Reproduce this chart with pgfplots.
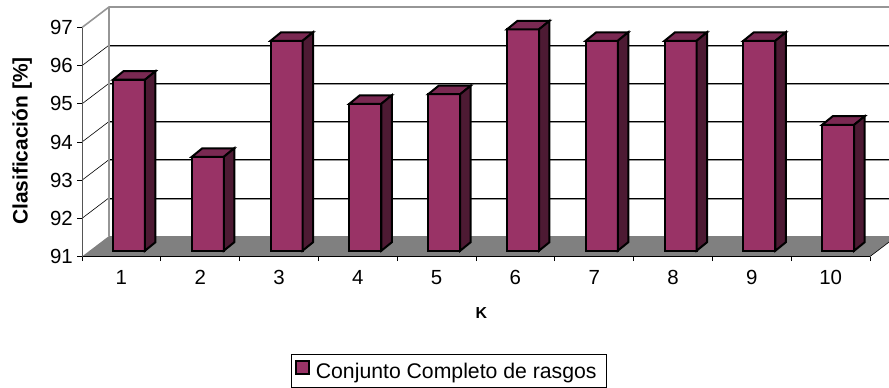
\documentclass[border=0pt]{standalone}
\usepackage{fontspec}
\setmainfont{Liberation Sans}
\usepackage{pgfplots}
\pgfplotsset{compat=1.18}
\definecolor{barfront}{HTML}{993366}
\definecolor{bartop}{HTML}{7A2952}
\definecolor{barside}{HTML}{4D1A33}
\definecolor{wallgray}{HTML}{969696}
\definecolor{floorgray}{HTML}{808080}
\definecolor{axisgray}{HTML}{555555}
% 3D look: the bars stand part of the way into the floor
\pgfplotsset{
  barplane/.style={xshift=7.6bp,yshift=5.8bp},
  backplane/.style={no marks,forget plot},
  gridback/.style={backplane,black,line width=0.5bp},
  gridshadow/.style={backplane,wallgray,line width=1.1bp,yshift=-1.2bp},
  griddiag/.style={backplane,black,line width=0.6bp},
  barface/.style={forget plot,draw=black,line width=2bp,line join=miter,no marks},
}
\begin{document}
\begin{tikzpicture}[x=1bp,y=1bp]
\clip (0,0) rectangle (889,387);
\begin{axis}[
  at={(82bp,130.5bp)},anchor=south west,
  scale only axis,width=788bp,height=229bp,
  clip=false,axis on top,
  xmin=0,xmax=10,ymin=91,ymax=97,
  axis x line*=bottom,axis y line*=left,
  axis line style={-,line width=0.8bp,color=black},
  y axis line style={color=axisgray},
  xtick={0,1,...,10},
  x tick label as interval,
  xticklabels={1,2,3,4,5,6,7,8,9,10},
  ytick={91,92,...,97},
  tick align=outside,
  major tick length=4.7bp,
  tick style={black,line width=0.7bp},
  tick label style={font=\fontsize{20.5}{22}\selectfont},
  /pgf/number format/assume math mode=true,
  xticklabel style={yshift=-6bp},
  yticklabel style={xshift=-1bp},
  xlabel={\textbf{\fontsize{16}{18}\selectfont K}},
  xlabel style={at={(axis description cs:0.5067,-0.2489)},anchor=center},
  ylabel={\textbf{\fontsize{21}{23}\selectfont Clasificación [\%]}},
  ylabel style={at={(axis description cs:-0.0760,0.504)},anchor=center},
  legend style={
    at={(axis description cs:0.2652,-0.427)},anchor=north west,
    draw=black,line width=0.8bp,
    font=\fontsize{21.3}{23}\selectfont,
    inner xsep=3.5bp,inner ysep=5bp,
  },
  legend cell align=left,
]
% floor
\addplot[backplane,fill=floorgray,draw=none] coordinates {(0,91)(0.3426,91.537)(10.3426,91.537)(10,91)} --cycle;
% back wall grid
\addplot[gridshadow] coordinates {(0.3426,92.537)(10.3426,92.537)};
\addplot[gridshadow] coordinates {(0.3426,93.537)(10.3426,93.537)};
\addplot[gridshadow] coordinates {(0.3426,94.537)(10.3426,94.537)};
\addplot[gridshadow] coordinates {(0.3426,95.537)(10.3426,95.537)};
\addplot[gridshadow] coordinates {(0.3426,96.537)(10.3426,96.537)};
\addplot[gridback] coordinates {(0.3426,92.537)(10.3426,92.537)};
\addplot[gridback] coordinates {(0.3426,93.537)(10.3426,93.537)};
\addplot[gridback] coordinates {(0.3426,94.537)(10.3426,94.537)};
\addplot[gridback] coordinates {(0.3426,95.537)(10.3426,95.537)};
\addplot[gridback] coordinates {(0.3426,96.537)(10.3426,96.537)};
% side wall lines
\addplot[griddiag] coordinates {(0,92)(0.3426,92.537)};
\addplot[griddiag] coordinates {(0,93)(0.3426,93.537)};
\addplot[griddiag] coordinates {(0,94)(0.3426,94.537)};
\addplot[griddiag] coordinates {(0,95)(0.3426,95.537)};
\addplot[griddiag] coordinates {(0,96)(0.3426,96.537)};
\addplot[backplane,wallgray,line width=1.6bp] coordinates {(0,97)(0.3426,97.537)(10.3426,97.537)};
\addplot[backplane,wallgray,line width=1.6bp] coordinates {(0.3426,91.537)(0.3426,97.537)};
\addplot[backplane,black,line width=0.6bp] coordinates {(0,91)(10,91)};
\addplot[backplane,black,line width=0.6bp] coordinates {(10,91)(10.3426,91.537)};
% front faces
\addplot[ybar,bar width=32bp,fill=barfront,draw=black,line width=2bp,barplane,
  legend image code/.code={%
    \draw[fill=barfront,draw=black,line width=2bp] (1bp,-8bp) rectangle (14bp,5bp);
    \path[draw=none,fill=none] (0bp,0bp) -- (19bp,0bp);}]
  coordinates {(0.5,95.48)(1.5,93.46)(2.5,96.5)(3.5,94.85)(4.5,95.1)(5.5,96.8)(6.5,96.5)(7.5,96.5)(8.5,96.5)(9.5,94.3)};
\addlegendentry{Conjunto Completo de rasgos\hspace{4bp}\rule[-17bp]{0pt}{1bp}}
% tops
\addplot[barface,fill=bartop,barplane] coordinates {(0.297,95.48)(0.43,95.703)(0.836,95.703)(0.703,95.48)} --cycle;
\addplot[barface,fill=bartop,barplane] coordinates {(1.297,93.46)(1.43,93.683)(1.836,93.683)(1.703,93.46)} --cycle;
\addplot[barface,fill=bartop,barplane] coordinates {(2.297,96.5)(2.43,96.723)(2.836,96.723)(2.703,96.5)} --cycle;
\addplot[barface,fill=bartop,barplane] coordinates {(3.297,94.85)(3.43,95.073)(3.836,95.073)(3.703,94.85)} --cycle;
\addplot[barface,fill=bartop,barplane] coordinates {(4.297,95.1)(4.43,95.323)(4.836,95.323)(4.703,95.1)} --cycle;
\addplot[barface,fill=bartop,barplane] coordinates {(5.297,96.8)(5.43,97.023)(5.836,97.023)(5.703,96.8)} --cycle;
\addplot[barface,fill=bartop,barplane] coordinates {(6.297,96.5)(6.43,96.723)(6.836,96.723)(6.703,96.5)} --cycle;
\addplot[barface,fill=bartop,barplane] coordinates {(7.297,96.5)(7.43,96.723)(7.836,96.723)(7.703,96.5)} --cycle;
\addplot[barface,fill=bartop,barplane] coordinates {(8.297,96.5)(8.43,96.723)(8.836,96.723)(8.703,96.5)} --cycle;
\addplot[barface,fill=bartop,barplane] coordinates {(9.297,94.3)(9.43,94.523)(9.836,94.523)(9.703,94.3)} --cycle;
% sides
\addplot[barface,fill=barside,barplane] coordinates {(0.703,91)(0.836,91.223)(0.836,95.703)(0.703,95.48)} --cycle;
\addplot[barface,fill=barside,barplane] coordinates {(1.703,91)(1.836,91.223)(1.836,93.683)(1.703,93.46)} --cycle;
\addplot[barface,fill=barside,barplane] coordinates {(2.703,91)(2.836,91.223)(2.836,96.723)(2.703,96.5)} --cycle;
\addplot[barface,fill=barside,barplane] coordinates {(3.703,91)(3.836,91.223)(3.836,95.073)(3.703,94.85)} --cycle;
\addplot[barface,fill=barside,barplane] coordinates {(4.703,91)(4.836,91.223)(4.836,95.323)(4.703,95.1)} --cycle;
\addplot[barface,fill=barside,barplane] coordinates {(5.703,91)(5.836,91.223)(5.836,97.023)(5.703,96.8)} --cycle;
\addplot[barface,fill=barside,barplane] coordinates {(6.703,91)(6.836,91.223)(6.836,96.723)(6.703,96.5)} --cycle;
\addplot[barface,fill=barside,barplane] coordinates {(7.703,91)(7.836,91.223)(7.836,96.723)(7.703,96.5)} --cycle;
\addplot[barface,fill=barside,barplane] coordinates {(8.703,91)(8.836,91.223)(8.836,96.723)(8.703,96.5)} --cycle;
\addplot[barface,fill=barside,barplane] coordinates {(9.703,91)(9.836,91.223)(9.836,94.523)(9.703,94.3)} --cycle;
\end{axis}
\end{tikzpicture}
\end{document}
